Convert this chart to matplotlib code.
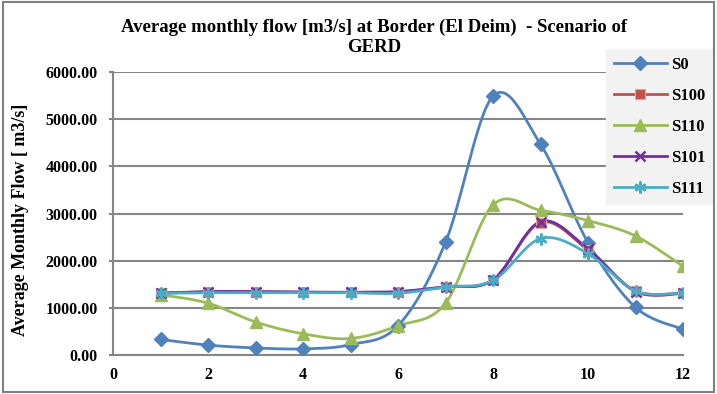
import numpy as np
import matplotlib
matplotlib.use("Agg")
import matplotlib.pyplot as plt
from matplotlib.patches import Rectangle

months = [1, 2, 3, 4, 5, 6, 7, 8, 9, 10, 11, 12]
s0 = [330, 210, 150, 130, 220, 620, 2390, 5490, 4470, 2385, 1010, 545]
s100 = [1320, 1340, 1340, 1330, 1330, 1335, 1445, 1590, 2810, 2225, 1360, 1315]
s110 = [1280, 1100, 700, 450, 350, 620, 1100, 3180, 3070, 2850, 2525, 1880]
s101 = [1310, 1345, 1345, 1335, 1330, 1345, 1450, 1595, 2830, 2250, 1345, 1305]
s111 = [1310, 1320, 1320, 1320, 1320, 1310, 1440, 1580, 2470, 2150, 1355, 1315]
labels = ["S0", "S100", "S110", "S101", "S111"]
colors = ["#4F81BD", "#C0504D", "#9BBB59", "#7030A0", "#4BACC6"]
yticks = [0, 1000, 2000, 3000, 4000, 5000, 6000]
xticks = [0, 2, 4, 6, 8, 10, 12]


def smooth(x, y, n=30):
    """Cubic Bezier smoothing through every point (Catmull-Rom style)."""
    x = np.asarray(x, float)
    y = np.asarray(y, float)
    px = np.concatenate([[x[0]], x, [x[-1]]])
    py = np.concatenate([[y[0]], y, [y[-1]]])
    xs, ys = [], []
    t = np.linspace(0, 1, n)
    for i in range(1, len(px) - 2):
        p0 = np.array([px[i], py[i]])
        p3 = np.array([px[i + 1], py[i + 1]])
        c1 = p0 + (np.array([px[i + 1], py[i + 1]]) - np.array([px[i - 1], py[i - 1]])) / 6
        c2 = p3 - (np.array([px[i + 2], py[i + 2]]) - np.array([px[i], py[i]])) / 6
        b = ((1 - t) ** 3)[:, None] * p0 + (3 * (1 - t) ** 2 * t)[:, None] * c1 \
            + (3 * (1 - t) * t ** 2)[:, None] * c2 + (t ** 3)[:, None] * p3
        xs.extend(b[:, 0])
        ys.extend(b[:, 1])
    return xs, ys


plt.rcParams["font.family"] = ["Liberation Serif", "DejaVu Serif"]
plt.rcParams["font.weight"] = "bold"

fig = plt.figure(figsize=(7.17, 3.94), dpi=100)
ax = fig.add_axes([0.1576, 0.099, 0.795, 0.718])

fig.patches.append(Rectangle((0.004, 0.006), 0.992, 0.988, transform=fig.transFigure,
                             fill=False, edgecolor="#808080", linewidth=1.5))

markers = [
    dict(marker="D", markersize=7),
    dict(marker="s", markersize=7.5, markeredgecolor="#E6A0A0", markeredgewidth=0.8),
    dict(marker="^", markersize=8.5),
    dict(marker="x", markersize=7, markeredgewidth=1.8),
    dict(marker=(6, 2, 0), markersize=8.5, markeredgewidth=1.8),
]

for data, lab, col, mk in zip([s0, s100, s110, s101, s111], labels, colors, markers):
    sx, sy = smooth(months, data)
    ax.plot(sx, sy, color=col, linewidth=2, zorder=3)
    kw = dict(color=col, markerfacecolor=col)
    kw.update(mk)
    if "markeredgecolor" not in kw:
        kw["markeredgecolor"] = col
    ax.plot(months, data, linestyle="none", zorder=4, **kw)
    ax.plot([], [], color=col, linewidth=2, label=lab, **{k: v for k, v in kw.items() if k != "color"})

ax.set_xlim(0, 12)
ax.set_ylim(0, 6000)
ax.set_xticks(xticks)
ax.set_yticks(yticks)
ax.set_yticklabels([f"{v:.2f}" for v in yticks], fontsize=11.5, fontweight="bold")
ax.set_xticklabels([str(v) for v in xticks], fontsize=11.5, fontweight="bold")
ax.yaxis.grid(True, color="#868686", linewidth=1.5)
ax.set_axisbelow(True)
for side in ("top", "right"):
    ax.spines[side].set_visible(False)
for side in ("left", "bottom"):
    ax.spines[side].set_color("#868686")
    ax.spines[side].set_linewidth(1.5)
ax.tick_params(axis="y", length=3, width=1.5, color="#868686", pad=8)
ax.tick_params(axis="x", length=0, pad=9)

ax.set_ylabel("Average Monthly Flow [ m3/s]", fontsize=13, fontweight="bold")
ax.yaxis.set_label_coords(-0.148, 0.477)
fig.text(0.522, 0.952, "Average monthly flow [m3/s] at Border (El Deim)  - Scenario of\nGERD",
         ha="center", va="top", fontsize=13.5, fontweight="bold", linespacing=1.2)

leg = ax.legend(loc="upper left", bbox_to_anchor=(0.865, 1.08), frameon=True,
                fancybox=False, facecolor="#F2F2F2", edgecolor="#F2F2F2", framealpha=1,
                fontsize=12, handlelength=3.2, labelspacing=0.9, borderpad=0.45,
                handletextpad=0.25, borderaxespad=0)
for t in leg.get_texts():
    t.set_fontweight("bold")

fig.savefig("out.png", dpi=100)
